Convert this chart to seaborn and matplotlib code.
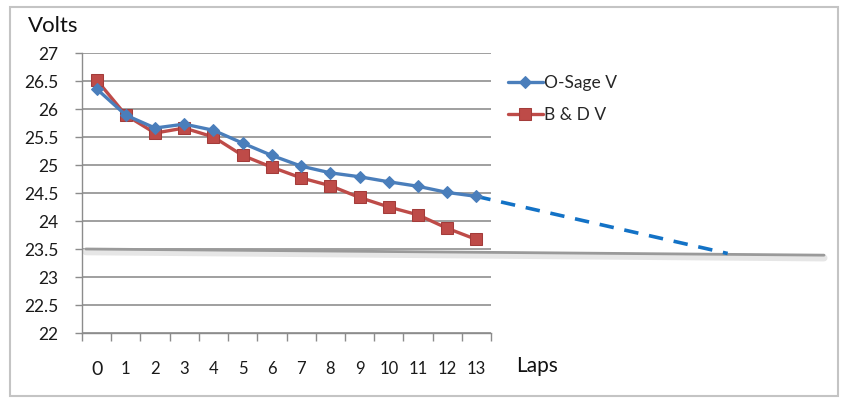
import matplotlib
matplotlib.use("Agg")
import matplotlib.pyplot as plt
import seaborn as sns
import pandas as pd
from matplotlib.patches import Rectangle

laps = list(range(14))
osage_v = [26.36, 25.89, 25.66, 25.73, 25.62, 25.39, 25.17, 24.98, 24.86, 24.79, 24.70, 24.62, 24.51, 24.44]
bd_v = [26.52, 25.89, 25.57, 25.66, 25.50, 25.17, 24.96, 24.77, 24.63, 24.42, 24.25, 24.11, 23.87, 23.67]
trend_x = [13, 21.6]
trend_y = [24.44, 23.42]
limit_x = [-0.37, 24.9]
limit_y = [23.5, 23.39]
y_ticks = [22, 22.5, 23, 23.5, 24, 24.5, 25, 25.5, 26, 26.5, 27]
y_labels = ["22", "22.5", "23", "23.5", "24", "24.5", "25", "25.5", "26", "26.5", "27"]

sns.set_style("white")
plt.rcParams['font.family'] = ['Lato', 'DejaVu Sans']

fig = plt.figure(figsize=(8.44, 4.01), dpi=100)
ax = fig.add_axes([82/844, 1-333/401, (491-82)/844, (333-53)/401])

blue = "#4A7EBB"
red = "#BE4B48"

df_o = pd.DataFrame({"Lap": laps, "Volts": osage_v})
df_b = pd.DataFrame({"Lap": laps, "Volts": bd_v})

# hand-drawn limit line with shadow
ax.plot(limit_x, [v - 0.05 for v in limit_y], color="#e6e6e6", lw=5, clip_on=False, zorder=1, solid_capstyle="round")
ax.plot(limit_x, limit_y, color="#9a9a9a", lw=2.0, clip_on=False, zorder=2)

sns.lineplot(data=df_o, x="Lap", y="Volts", ax=ax, color=blue, lw=2.4, marker="D",
             markersize=6.5, markeredgecolor=blue, label="O-Sage V", zorder=4)
sns.lineplot(data=df_b, x="Lap", y="Volts", ax=ax, color=red, lw=2.4, marker="s",
             markersize=8, markeredgecolor="#A33C3A", label="B & D V", zorder=3)

ax.plot(trend_x, trend_y, color="#1372C6", lw=2.6, ls=(0, (4, 3)), clip_on=False, zorder=3)

ax.set_xlim(-0.5, 13.5)
ax.set_ylim(22, 27)
ax.set_yticks(y_ticks)
ax.set_yticklabels(y_labels)
ax.set_xticks(laps)
ax.set_xticklabels([str(v) for v in laps])
ax.set_xticks([v - 0.5 for v in range(15)], minor=True)
ax.set_xlabel("")
ax.set_ylabel("")

for t in ax.get_yticklines():
    pass
ax.tick_params(axis="y", which="major", direction="out", length=5, width=1, color="#8c8c8c",
               pad=12, labelsize=12.5, labelcolor="#1a1a1a", left=True)
ax.tick_params(axis="x", which="major", length=0, pad=20, labelsize=12, labelcolor="#1a1a1a")
ax.tick_params(axis="x", which="minor", direction="out", length=6, width=1, color="#8c8c8c", bottom=True)
ax.get_xticklabels()[0].set_fontsize(14)

ax.grid(axis="y", color="#8f8f8f", lw=1.2)
ax.grid(axis="x", visible=False)
for s in ["top", "right"]:
    ax.spines[s].set_visible(False)
for s in ["left", "bottom"]:
    ax.spines[s].set_color("#8c8c8c")
    ax.spines[s].set_linewidth(1.0)

fig.text(53/844, 1-26/401, "Volts", fontsize=16, ha="center", va="center", color="#111111")
fig.text(537/844, 1-366/401, "Laps", fontsize=15, ha="center", va="center", color="#111111")

handles, labels = ax.get_legend_handles_labels()
ax.legend(handles, labels, loc="upper left", bbox_to_anchor=(508/844, 1-75/401),
          bbox_transform=fig.transFigure, frameon=False, fontsize=12.5, handlelength=2.0,
          handletextpad=0.1, labelspacing=0.95, borderpad=0, borderaxespad=0)

fig.patches.append(Rectangle((10/844, 1-396/401), (838-10)/844, (396-7)/401, transform=fig.transFigure,
                             fill=False, edgecolor="#c4c4c4", lw=1.5))

fig.savefig("out.png", dpi=100)
